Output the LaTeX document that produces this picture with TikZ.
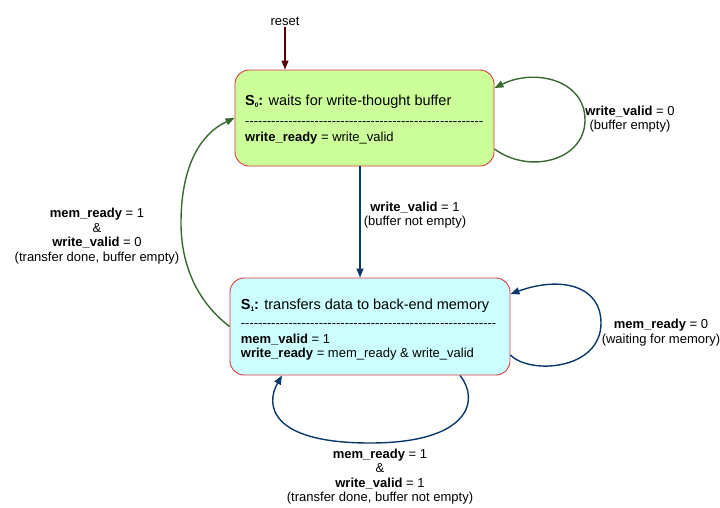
\documentclass[tikz,border=0pt]{standalone}
\usepackage{fontspec}
\setmainfont{Liberation Sans}
\usetikzlibrary{arrows.meta}

\definecolor{boxred}{RGB}{214,58,64}
\definecolor{fillgreen}{RGB}{204,255,153}
\definecolor{fillcyan}{RGB}{204,255,255}
\definecolor{arrgreen}{RGB}{56,106,48}
\definecolor{arrblue}{RGB}{10,56,108}
\definecolor{arrred}{RGB}{90,0,0}

% font sizes
\newcommand\lblfont{\fontsize{13}{14.5}\selectfont}
\newcommand\ttlfont{\fontsize{14.5}{16}\selectfont}
\newcommand\subidx[1]{\raisebox{-1.8pt}{\fontsize{6.5}{7}\selectfont #1}}
% a row of separate hyphens (kerns keep them from joining into dashes)
\newcount\hycount
\newcommand\hyrow[1]{\hycount=#1\relax\loop\ifnum\hycount>0 -\kern0pt\advance\hycount by -1\repeat}

\begin{document}
\begin{tikzpicture}[x=1pt,y=-1pt,
  statebox/.style={draw=boxred, line width=0.9pt, rounded corners=14pt, inner sep=0pt},
  boxtext/.style={anchor=base west, inner sep=0pt, font=\lblfont},
  lbl/.style={align=center, inner sep=0pt, font=\lblfont},
  tip/.style={-{Triangle[length=9pt,width=7pt]}},
  greenarr/.style={tip, draw=arrgreen, line width=1.4pt},
  bluearr/.style={tip, draw=arrblue, line width=1.4pt}
]
\useasboundingbox (0,0) rectangle (720,507);

% states
\node[statebox, fill=fillgreen, minimum width=259pt, minimum height=96pt] (s0) at (364.5,118) {};
\node[statebox, fill=fillcyan, minimum width=280pt, minimum height=97pt] (s1) at (370,326.5) {};

\node[boxtext, font=\ttlfont] (s0title) at (245,105.2) {\textbf{S\subidx{0}:} waits for write-thought buffer};
\node[boxtext] (s0rule) at (245,125.5) {\hyrow{55}};
\node[boxtext] (s0out) at (245,141.7) {\textbf{write\_ready} = write\_valid};

\node[boxtext, font=\ttlfont] (s1title) at (240.7,309.5) {\textbf{S\subidx{1}:} transfers data to back-end memory};
\node[boxtext] (s1rule) at (240.7,327.5) {\hyrow{59}};
\node[boxtext] (s1out1) at (240.7,343.7) {\textbf{mem\_valid} = 1};
\node[boxtext] (s1out2) at (240.7,357.6) {\textbf{write\_ready} = mem\_ready \& write\_valid};

% reset
\node[anchor=base, inner sep=2pt, font=\lblfont] (reset) at (285,25) {reset};
\draw[tip, draw=arrred, line width=1.2pt] (reset.south) -- (reset.south |- s0.north);

% S0 -> S1
\coordinate (xm) at (360,0);
\draw[bluearr] (s0.south -| xm) -- (s1.north -| xm);
\node[lbl] (l01) at (415,215) {\textbf{write\_valid} = 1\\(buffer not empty)};

% S0 self loop
\draw[greenarr] ([yshift=-31pt]s0.east) .. controls (530,175) and (585,160) .. (585,120)
  .. controls (585,80) and (535,68) .. ([yshift=30pt]s0.east);
\node[lbl] (l00) at (630,119.2) {\textbf{write\_valid} = 0\\(buffer empty)};

% S1 self loop, right
\draw[bluearr] ([yshift=-28.5pt]s1.east) .. controls (530,375) and (601,370) .. (601,323)
  .. controls (601,285) and (560,276) .. ([yshift=32.5pt]s1.east);
\node[lbl] (l11a) at (661,332.5) {\textbf{mem\_ready} = 0\\(waiting for memory)};

% S1 self loop, bottom
\draw[bluearr] ([xshift=90pt]s1.south) .. controls (480,400) and (470,443) .. (370,443)
  .. controls (270,443) and (265,405) .. ([xshift=-88pt]s1.south);
\node[lbl] (l11b) at (380,476.7) {\textbf{mem\_ready} = 1\\\&\\\textbf{write\_valid} = 1\\(transfer done, buffer not empty)};

% S1 -> S0
\draw[greenarr] (s1.west) .. controls (195,300) and (181,262) .. (181,223)
  .. controls (181,170) and (198,135) .. (s0.west);
\node[lbl] (l10) at (97,235.9) {\textbf{mem\_ready} = 1\\\&\\\textbf{write\_valid} = 0\\(transfer done, buffer empty)};
\end{tikzpicture}
\end{document}
